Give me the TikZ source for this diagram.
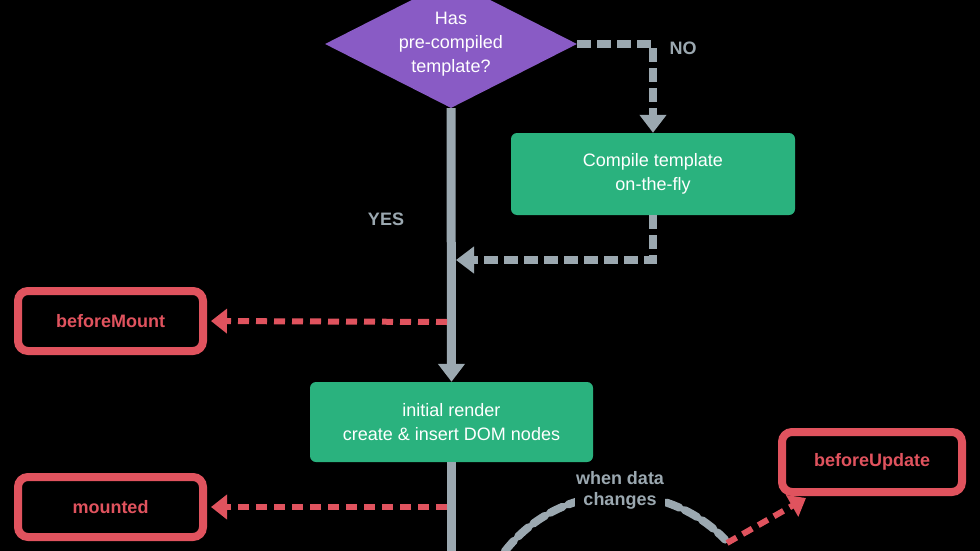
\documentclass[tikz,border=0pt]{standalone}
\usepackage{fontspec}
\setmainfont{Liberation Sans}
\usepackage{tikz}
\usetikzlibrary{shapes.geometric, arrows.meta, positioning}
\definecolor{vuegreen}{HTML}{2AB27E}
\definecolor{checkpurple}{HTML}{895BC5}
\definecolor{flowgray}{HTML}{9BA8B0}
\definecolor{hookred}{HTML}{E0535E}
\tikzstyle{decision} = [diamond, aspect=2, minimum width=252pt, minimum height=128pt, inner sep=0pt, fill=checkpurple, text=white, align=center, font=\fontsize{18}{24}\selectfont]
\tikzstyle{process} = [rectangle, rounded corners=6pt, minimum width=283pt, minimum height=81pt, fill=vuegreen, text=white, align=center, font=\fontsize{18}{24}\selectfont]
\tikzstyle{hook} = [rectangle, rounded corners=10pt, minimum width=185pt, minimum height=60pt, draw=hookred, line width=8pt, fill=black, text=hookred, font=\fontsize{18}{22}\selectfont\bfseries]
\tikzstyle{flowline} = [line width=9pt, draw=flowgray]
\tikzstyle{flow} = [flowline, -{Triangle[length=18pt, width=26pt]}]
\tikzstyle{flowdash} = [line width=8pt, draw=flowgray, dash pattern=on 14pt off 6pt, -{Triangle[length=18pt, width=26pt]}]
\tikzstyle{hookdash} = [line width=6pt, draw=hookred, dash pattern=on 11pt off 7pt, shorten >=4pt, -{Triangle[length=16pt, width=24pt]}]
\tikzstyle{flowlabel} = [text=flowgray, align=center, font=\fontsize{18}{21}\selectfont\bfseries]

\begin{document}
\begin{tikzpicture}[x=1pt, y=1pt]
    \useasboundingbox (0,0) rectangle (980,-551);
    \fill[black] (0,0) rectangle (980,-551);
    \clip (0,0) rectangle (980,-551);

    \node[decision] (check) at (451,-44) {Has\\pre-compiled\\template?};
    \node[process, minimum width=284pt, minimum height=82pt] (compile) at (653,-174) {Compile template\\on-the-fly};
    \node[process, minimum height=80pt] (render) at (451.5,-422) {initial render\\create \& insert DOM nodes};
    \node[hook] (beforeMount) at (110.5,-321) {beforeMount};
    \node[hook] (mounted) at (110.5,-507) {mounted};
    \node[hook, minimum width=180pt] (beforeUpdate) at (872,-462) {beforeUpdate};

    \coordinate (rejoin) at (456,-260);
    \coordinate (bmtap) at (447,-322);
    \coordinate (mtap) at (447,-507);
    \coordinate (bottom) at (451.5,-560);
    \coordinate (loopstart) at (493.6,-568);
    \coordinate (updfrom) at (727,-543);
    \coordinate (updto) at (806,-498);

    \draw[flow] (check.south) -- (render.north);
    \draw[flowline] (render.south) -- (bottom);
    \draw[flowdash] (check.east) -| (compile.north);
    \draw[flowdash] (compile.south) |- (rejoin);
    \draw[hookdash] (bmtap) -- (beforeMount.east);
    \draw[hookdash] (mtap) -- (mounted.east);

    % data change loop
    \draw[flowdash, -, line cap=round] (loopstart) arc[start angle=150, end angle=44, radius=146];
    \draw[hookdash, shorten >=0pt] (updfrom) -- (updto);

    \node[flowlabel] (nolabel) at (683,-48) {NO};
    \node[flowlabel] (yeslabel) at (386,-219) {YES};
    \node[flowlabel, fill=black, inner sep=1pt] (whenchanged) at (620,-490) {when data\\changes};
\end{tikzpicture}
\end{document}
